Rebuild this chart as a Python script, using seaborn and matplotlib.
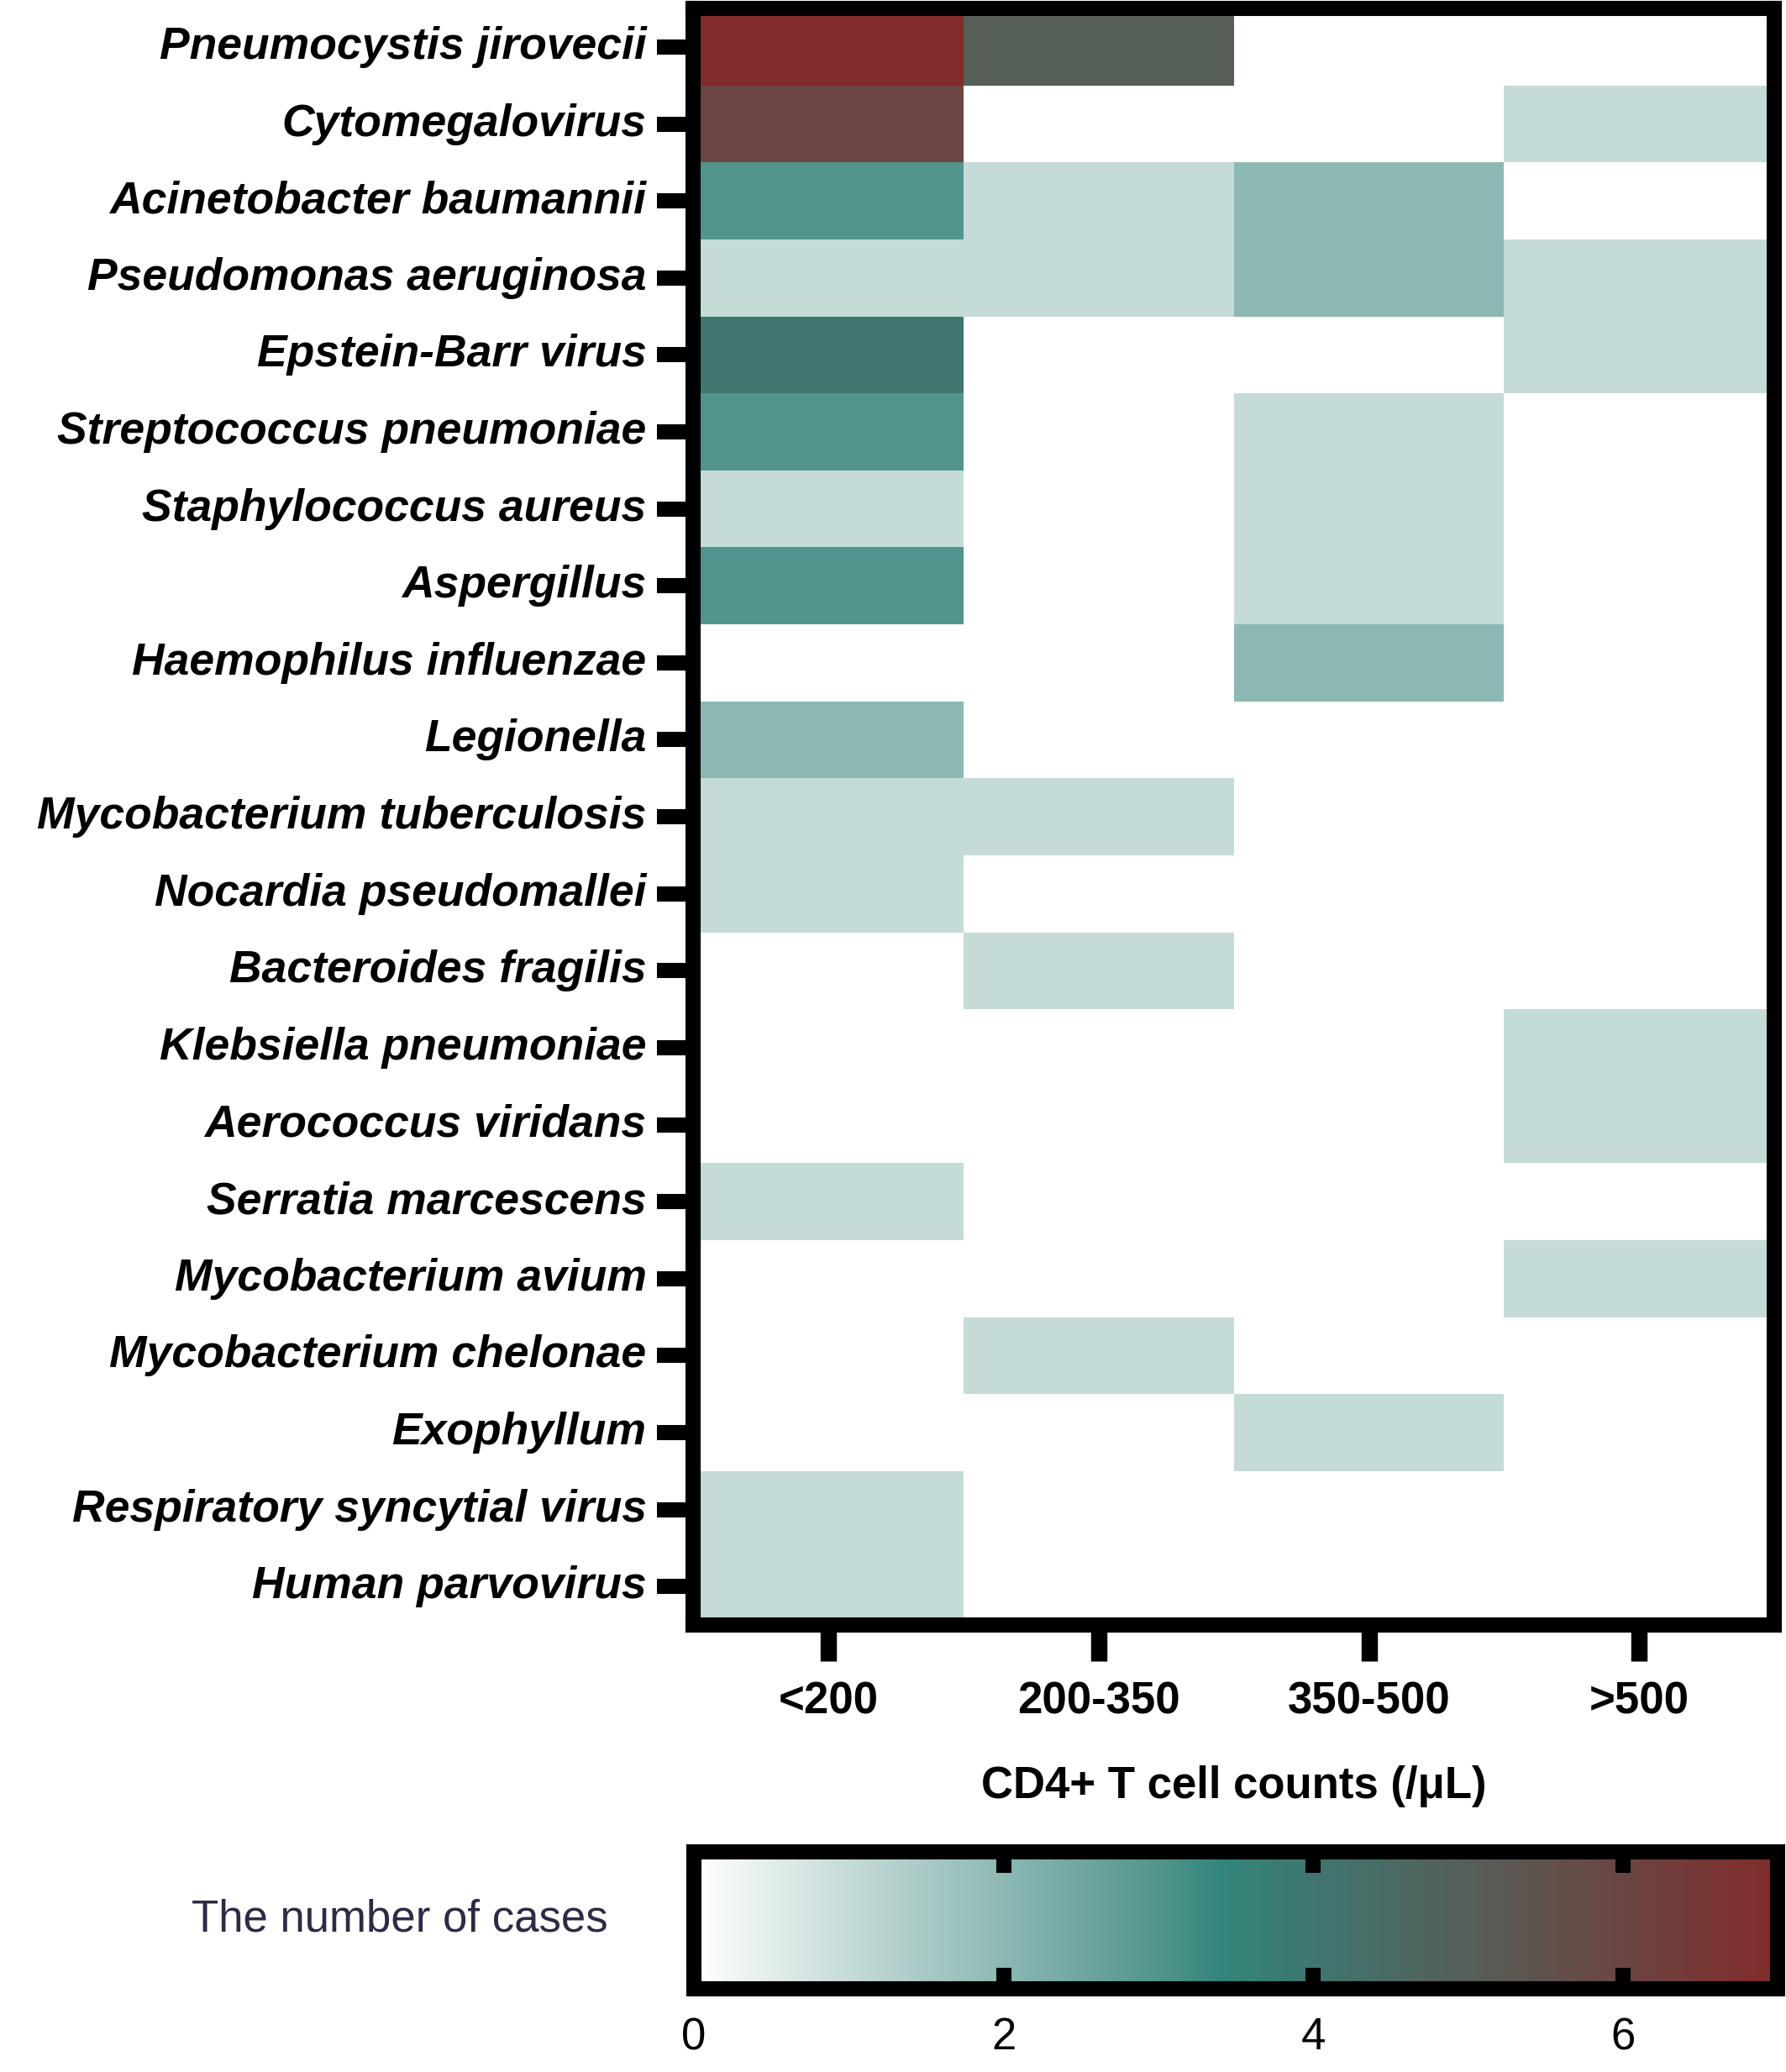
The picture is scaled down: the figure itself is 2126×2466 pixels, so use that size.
import matplotlib.pyplot as plt
import pandas as pd
import seaborn as sns
from matplotlib.colors import LinearSegmentedColormap

# pathogens by CD4+ T cell count group
pathogens = [
    "Pneumocystis jirovecii", "Cytomegalovirus", "Acinetobacter baumannii",
    "Pseudomonas aeruginosa", "Epstein-Barr virus", "Streptococcus pneumoniae",
    "Staphylococcus aureus", "Aspergillus", "Haemophilus influenzae", "Legionella",
    "Mycobacterium tuberculosis", "Nocardia pseudomallei", "Bacteroides fragilis",
    "Klebsiella pneumoniae", "Aerococcus viridans", "Serratia marcescens",
    "Mycobacterium avium", "Mycobacterium chelonae", "Exophyllum",
    "Respiratory syncytial virus", "Human parvovirus",
]
cd4_groups = ["<200", "200-350", "350-500", ">500"]

lt200 = [7, 6, 3, 1, 4, 3, 1, 3, 0, 2, 1, 1, 0, 0, 0, 1, 0, 0, 0, 1, 1]
g200_350 = [5, 0, 1, 1, 0, 0, 0, 0, 0, 0, 1, 0, 1, 0, 0, 0, 0, 1, 0, 0, 0]
g350_500 = [0, 0, 2, 2, 0, 1, 1, 1, 2, 0, 0, 0, 0, 0, 0, 0, 0, 0, 1, 0, 0]
gt500 = [0, 1, 0, 1, 1, 0, 0, 0, 0, 0, 0, 0, 0, 1, 1, 0, 1, 0, 0, 0, 0]

cbar_ticks = [0, 2, 4, 6]

df = pd.DataFrame({cd4_groups[0]: lt200, cd4_groups[1]: g200_350,
                   cd4_groups[2]: g350_500, cd4_groups[3]: gt500}, index=pathogens)

vmax = 7
cmap = LinearSegmentedColormap.from_list("cases", [
    (0 / vmax, "#ffffff"),
    (1 / vmax, "#c5dbd8"),
    (2 / vmax, "#8cb8b4"),
    (3 / vmax, "#52958e"),
    (3.4 / vmax, "#32857b"),
    (4 / vmax, "#3f7670"),
    (5 / vmax, "#565e58"),
    (6 / vmax, "#6a4542"),
    (7 / vmax, "#822b2b"),
], N=512)

sns.set_style("white")
plt.rcParams["font.family"] = ["Liberation Sans", "DejaVu Sans"]
plt.rcParams["text.color"] = "black"
plt.rcParams["xtick.color"] = "black"
plt.rcParams["ytick.color"] = "black"
plt.rcParams["axes.labelcolor"] = "black"

fig = plt.figure(figsize=(21.26, 24.66), dpi=100)
ax = fig.add_axes([0.3881, 0.2157, 0.6054, 0.7802])
cax = fig.add_axes([0.3885, 0.0401, 0.6068, 0.0661])

sns.heatmap(df, ax=ax, cmap=cmap, vmin=0, vmax=vmax, cbar_ax=cax,
            cbar_kws={"orientation": "horizontal", "ticks": cbar_ticks})

lw = 13
for spine in ax.spines.values():
    spine.set_visible(True)
    spine.set_linewidth(lw)
    spine.set_color("black")

ax.tick_params(axis="y", left=True, length=31, width=13, pad=9, labelsize=38.5,
               colors="black")
ax.tick_params(axis="x", bottom=True, length=31, width=14, pad=17, labelsize=38,
               colors="black")
for lab in ax.get_yticklabels():
    lab.set_fontweight("bold")
    lab.set_fontstyle("italic")
    lab.set_rotation(0)
for lab in ax.get_xticklabels():
    lab.set_fontweight("bold")
    lab.set_rotation(0)
ax.set_xlabel("CD4+ T cell counts (/μL)", fontsize=38, fontweight="bold",
              labelpad=36, color="black")
ax.set_ylabel("")

cbar = ax.collections[0].colorbar
cbar.outline.set_visible(True)
cbar.outline.set_linewidth(lw)
cbar.outline.set_edgecolor("black")
cax.set_axisbelow(False)
cax.tick_params(axis="x", direction="in", top=True, bottom=True, length=18,
                width=13, pad=24, labelsize=38, colors="black")
cax.set_xticklabels([str(t) for t in cbar_ticks])

fig.text(0.3406, 0.0738, "The number of cases", ha="right", va="center",
         fontsize=38, color="#2b2b45")

fig.savefig("out.png", dpi=100)
